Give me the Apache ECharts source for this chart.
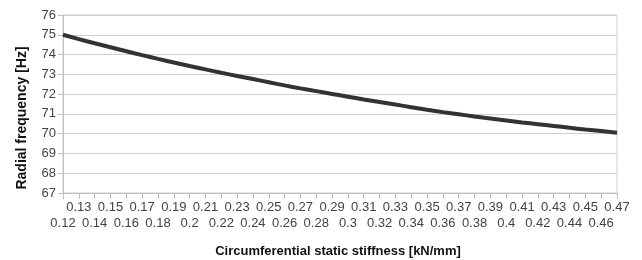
<!DOCTYPE html>
<html>
<head>
<meta charset="utf-8">
<script src="https://cdn.jsdelivr.net/npm/echarts@6/dist/echarts.min.js"></script>
<style>
  html, body { margin: 0; padding: 0; background: #fff; }
  #chart { width: 642px; height: 260px; }
</style>
</head>
<body>
<div id="chart"></div>
<script>
// stiffness values on x axis [kN/mm]
const stiffness = [
  "0.12", "0.13", "0.14", "0.15", "0.16", "0.17", "0.18", "0.19", "0.2",
  "0.21", "0.22", "0.23", "0.24", "0.25", "0.26", "0.27", "0.28", "0.29", "0.3",
  "0.31", "0.32", "0.33", "0.34", "0.35", "0.36", "0.37", "0.38", "0.39", "0.4",
  "0.41", "0.42", "0.43", "0.44", "0.45", "0.46", "0.47"
];
// radial frequency [Hz]
const radialFreq = [
  75.0, 74.78, 74.57, 74.37, 74.17, 73.97, 73.78, 73.6, 73.42,
  73.25, 73.08, 72.92, 72.76, 72.6, 72.44, 72.29, 72.15, 72.01, 71.87,
  71.73, 71.6, 71.47, 71.34, 71.21, 71.09, 70.98, 70.87, 70.77, 70.67,
  70.57, 70.48, 70.39, 70.3, 70.21, 70.13, 70.05
];
const yMin = 67, yMax = 76, yStep = 1;

const chart = echarts.init(document.getElementById("chart"));
const font = "Liberation Sans, Arial, sans-serif";

const option = {
  animation: false,
  grid: { left: 63, right: 25, top: 15, bottom: 67, show: true, borderColor: "#cfcfcf", borderWidth: 1 },
  xAxis: {
    type: "category",
    data: stiffness,
    boundaryGap: false,
    axisLine: { lineStyle: { color: "#bdbdbd" } },
    axisTick: { show: true, length: 6, interval: 0, lineStyle: { color: "#bdbdbd" } },
    axisLabel: {
      interval: 0,
      hideOverlap: false,
      margin: 6,
      color: "#444",
      fontFamily: font,
      fontSize: 13,
      lineHeight: 16,
      // alternate labels between two rows
      formatter: (v, i) => (i % 2 === 0 ? "\n" + v : v)
    },
    splitLine: { show: false }
  },
  yAxis: {
    type: "value",
    min: yMin,
    max: yMax,
    interval: yStep,
    axisLine: { show: true, lineStyle: { color: "#bdbdbd" } },
    axisTick: { show: true, length: 5, lineStyle: { color: "#bdbdbd" } },
    axisLabel: { margin: 7, color: "#444", fontFamily: font, fontSize: 13 },
    splitLine: { lineStyle: { color: "#cfcfcf", width: 1 } }
  },
  graphic: [
    {
      type: "text",
      x: 22, y: 118,
      rotation: Math.PI / 2,
      style: {
        text: "Radial frequency [Hz]",
        font: "bold 14px " + font,
        fill: "#111",
        align: "center",
        verticalAlign: "middle"
      }
    },
    {
      type: "text",
      x: 338, y: 251,
      style: {
        text: "Circumferential static stiffness [kN/mm]",
        font: "bold 13px " + font,
        fill: "#111",
        align: "center",
        verticalAlign: "middle"
      }
    }
  ],
  series: [
    {
      type: "line",
      data: radialFreq,
      smooth: true,
      showSymbol: false,
      lineStyle: { color: "#333", width: 4 }
    }
  ]
};
chart.setOption(option);
</script>
</body>
</html>
